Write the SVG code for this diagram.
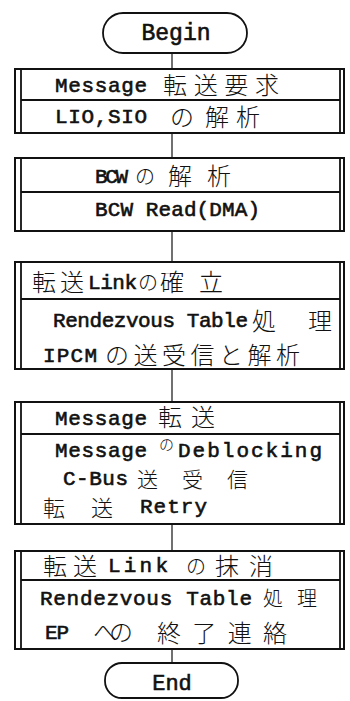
<svg xmlns="http://www.w3.org/2000/svg" width="350" height="701" viewBox="0 0 350 701">
<style>
.bg{fill:#fff}
.term{fill:none;stroke:#111;stroke-width:1.8}
.box{fill:none;stroke:#111;stroke-width:2}
.div{stroke:#111;stroke-width:1.8}
.con{stroke:#111;stroke-width:1.2;fill:none}
.m{font-family:"Liberation Mono","Courier New",monospace;font-size:21px;font-weight:normal;fill:#111;stroke:#111;stroke-width:0.6}
.j{font-family:"Noto Sans CJK JP","Noto Sans",sans-serif;font-size:24px;font-weight:300;fill:#111}
.js{font-family:"Noto Sans CJK JP","Noto Sans",sans-serif;font-size:20px;font-weight:300;fill:#111}
</style>
<rect class="bg" x="0" y="0" width="350" height="701"/>
<g id="connectors">
<line class="con" x1="172" y1="53" x2="172" y2="69"/>
<line class="con" x1="172" y1="133" x2="172" y2="158"/>
<line class="con" x1="172" y1="231" x2="172" y2="262"/>
<line class="con" x1="172" y1="369" x2="172" y2="402"/>
<line class="con" x1="172" y1="524" x2="172" y2="551"/>
<line class="con" x1="172" y1="649" x2="172" y2="663"/>
</g>
<g id="begin">
<rect class="term" x="103" y="13" width="144" height="40" rx="20" ry="20"/>
<text class="m" x="176" y="40" text-anchor="middle" style="font-size:23px">Begin</text>
</g>
<g id="box1">
<rect class="box" x="15" y="69" width="329" height="64"/>
<line class="div" x1="21" y1="69" x2="21" y2="133"/>
<line class="div" x1="340" y1="69" x2="340" y2="133"/>
<line class="div" x1="21" y1="100" x2="340" y2="100"/>
<text class="m" x="55" y="92" textLength="92">Message</text>
<text class="j" x="163" y="94" textLength="116">転送要求</text>
<text class="m" x="55" y="123" textLength="92">LIO,SIO</text>
<text class="j" x="170" y="126">の</text>
<text class="j" x="205" y="126" textLength="55">解析</text>
</g>
<g id="box2">
<rect class="box" x="15" y="158" width="329" height="73"/>
<line class="div" x1="21" y1="158" x2="21" y2="231"/>
<line class="div" x1="340" y1="158" x2="340" y2="231"/>
<line class="div" x1="21" y1="192" x2="340" y2="192"/>
<text class="m" x="95" y="183" textLength="33">BCW</text>
<text class="js" x="135" y="184">の</text>
<text class="j" x="168" y="185">解</text>
<text class="j" x="207" y="185">析</text>
<text class="m" x="95" y="216" textLength="165">BCW Read(DMA)</text>
</g>
<g id="box3">
<rect class="box" x="15" y="262" width="329" height="107"/>
<line class="div" x1="21" y1="262" x2="21" y2="369"/>
<line class="div" x1="340" y1="262" x2="340" y2="369"/>
<line class="div" x1="21" y1="299" x2="340" y2="299"/>
<text class="j" x="32" y="291" textLength="52">転送</text>
<text class="m" x="88" y="289" textLength="49">Link</text>
<text class="js" x="138" y="290">の</text>
<text class="j" x="160" y="291" textLength="63">確立</text>
<text class="m" x="53" y="327" textLength="195">Rendezvous Table</text>
<text class="j" x="252" y="330" textLength="80">処理</text>
<text class="m" x="43" y="362" textLength="54">IPCM</text>
<text class="j" x="105" y="364" textLength="195">の送受信と解析</text>
</g>
<g id="box4">
<rect class="box" x="15" y="402" width="329" height="122"/>
<line class="div" x1="21" y1="402" x2="21" y2="524"/>
<line class="div" x1="340" y1="402" x2="340" y2="524"/>
<line class="div" x1="21" y1="434" x2="340" y2="434"/>
<text class="m" x="55" y="425" textLength="92">Message</text>
<text class="j" x="158" y="426" textLength="57">転送</text>
<text class="m" x="55" y="457" textLength="92">Message</text>
<text class="js" x="159" y="450" style="font-size:15px">の</text>
<text class="m" x="178" y="457" textLength="144">Deblocking</text>
<text class="m" x="63" y="485" textLength="65">C-Bus</text>
<text class="j" x="137" y="487" textLength="111" style="font-size:21px">送受信</text>
<text class="j" x="43" y="516" textLength="70" style="font-size:22px">転送</text>
<text class="m" x="140" y="513" textLength="67">Retry</text>
</g>
<g id="box5">
<rect class="box" x="15" y="551" width="329" height="98"/>
<line class="div" x1="21" y1="551" x2="21" y2="649"/>
<line class="div" x1="340" y1="551" x2="340" y2="649"/>
<line class="div" x1="21" y1="580" x2="340" y2="580"/>
<text class="j" x="43" y="575" textLength="54">転送</text>
<text class="m" x="108" y="572" textLength="60">Link</text>
<text class="js" x="186" y="574">の</text>
<text class="j" x="215" y="575" textLength="58">抹消</text>
<text class="m" x="40" y="605" textLength="212">Rendezvous Table</text>
<text class="js" x="263" y="606" textLength="54">処理</text>
<text class="m" x="45" y="639" textLength="24">EP</text>
<text class="j" x="93" y="641" textLength="40">への</text>
<text class="j" x="157" y="642" textLength="130">終了連絡</text>
</g>
<g id="end">
<rect class="term" x="105" y="663" width="133" height="35" rx="17" ry="17"/>
<text class="m" x="172" y="690" text-anchor="middle" style="font-size:22px">End</text>
</g>
</svg>
